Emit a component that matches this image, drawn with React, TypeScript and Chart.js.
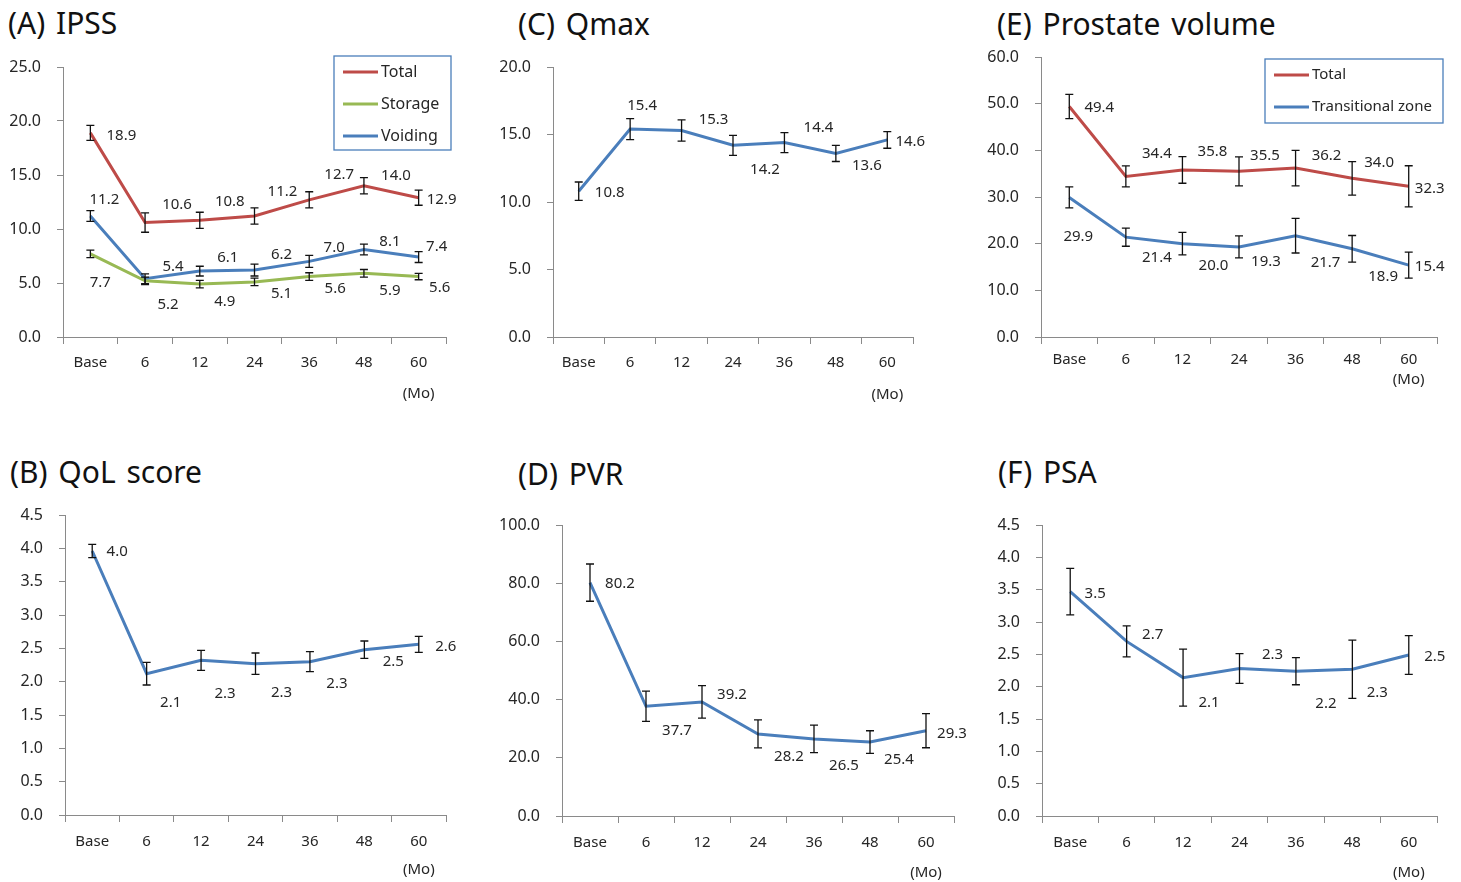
import React, { useEffect, useRef } from 'react';
import { Chart, registerables } from 'chart.js';
Chart.register(...registerables);

// ---------- data ----------
const months = ['Base', '6', '12', '24', '36', '48', '60'];
const unitLabel = '(Mo)';

// (A) IPSS
const ipssTotal = [18.9, 10.6, 10.8, 11.2, 12.7, 14.0, 12.9];
const ipssTotalErr = [0.7, 0.9, 0.75, 0.75, 0.75, 0.75, 0.7];
const ipssStorage = [7.7, 5.2, 4.9, 5.1, 5.6, 5.9, 5.6];
const ipssStorageErr = [0.35, 0.35, 0.35, 0.35, 0.35, 0.35, 0.3];
const ipssVoiding = [11.2, 5.4, 6.1, 6.2, 7.0, 8.1, 7.4];
const ipssVoidingErr = [0.5, 0.45, 0.45, 0.55, 0.55, 0.5, 0.5];

// (B) QoL score
const qol = [3.96, 2.12, 2.32, 2.27, 2.3, 2.48, 2.56];
const qolErr = [0.1, 0.17, 0.15, 0.16, 0.15, 0.13, 0.12];

// (C) Qmax
const qmax = [10.8, 15.4, 15.3, 14.2, 14.4, 13.6, 14.6];
const qmaxErr = [0.68, 0.78, 0.79, 0.74, 0.74, 0.6, 0.62];

// (D) PVR
const pvr = [80.2, 37.7, 39.2, 28.2, 26.5, 25.4, 29.3];
const pvrErr = [6.4, 5.2, 5.6, 4.8, 4.75, 3.9, 5.85];

// (E) Prostate volume
const pvTotal = [49.4, 34.4, 35.8, 35.5, 36.2, 34.0, 32.3];
const pvTotalErr = [2.6, 2.25, 2.85, 3.1, 3.8, 3.6, 4.4];
const pvTz = [29.9, 21.4, 20.0, 19.3, 21.7, 18.9, 15.4];
const pvTzErr = [2.25, 1.95, 2.4, 2.35, 3.7, 2.85, 2.8];

// (F) PSA
const psa = [3.47, 2.7, 2.14, 2.28, 2.24, 2.27, 2.49];
const psaErr = [0.36, 0.24, 0.44, 0.23, 0.21, 0.45, 0.3];

// ---------- styles ----------
const FONT = "'Noto Sans', 'DejaVu Sans', sans-serif";
const TEXT = '#262626';
const AXIS = '#8a8a8a';
const RED = '#BE4B48';
const GREEN = '#98B954';
const BLUE = '#4A7EBB';

type Series = { label: string; data: number[]; err: number[]; color: string; offsets: number[][] };
type PanelCfg = {
  key: string;
  title: string;
  titleX: number;
  titleY: number;
  canvas: { x: number; y: number; w: number; h: number };
  area: { l: number; t: number; r: number; b: number };
  yMax: number;
  yStep: number;
  xPad: number;
  unitDy: number;
  series: Series[];
  legend?: { dRight: number; dTop: number; w: number; h: number; font: number };
};

const panels: PanelCfg[] = [
  {
    key: 'A', title: '(A) IPSS', titleX: 8, titleY: 23,
    canvas: { x: 0, y: 40, w: 470, h: 370 }, area: { l: 63, t: 67, r: 446, b: 337 },
    yMax: 25, yStep: 5, xPad: 10, unitDy: 57,
    legend: { dRight: 5, dTop: -11, w: 117, h: 94, font: 16 },
    series: [
      { label: 'Total', data: ipssTotal, err: ipssTotalErr, color: RED,
        offsets: [[31, 3], [32, -18], [30, -19], [28, -24], [30, -25], [32, -10], [23, 2]] },
      { label: 'Storage', data: ipssStorage, err: ipssStorageErr, color: GREEN,
        offsets: [[10, 29], [23, 24], [25, 18], [27, 12], [26, 12], [26, 17], [21, 11]] },
      { label: 'Voiding', data: ipssVoiding, err: ipssVoidingErr, color: BLUE,
        offsets: [[14, -16], [28, -12], [28, -13], [27, -15], [25, -14], [26, -8], [18, -10]] },
    ],
  },
  {
    key: 'C', title: '(C) Qmax', titleX: 518, titleY: 24,
    canvas: { x: 480, y: 40, w: 480, h: 370 }, area: { l: 553, t: 67, r: 913, b: 337 },
    yMax: 20, yStep: 5, xPad: 10, unitDy: 58,
    series: [
      { label: 'Qmax', data: qmax, err: qmaxErr, color: BLUE,
        offsets: [[31, 2], [12, -23], [32, -11], [32, 24], [34, -15], [31, 12], [23, 2]] },
    ],
  },
  {
    key: 'E', title: '(E) Prostate volume', titleX: 997, titleY: 24,
    canvas: { x: 965, y: 40, w: 496, h: 360 }, area: { l: 1041, t: 57, r: 1437, b: 337 },
    yMax: 60, yStep: 10, xPad: 7, unitDy: 43,
    legend: { dRight: 6, dTop: 2, w: 178, h: 64, font: 15 },
    series: [
      { label: 'Total', data: pvTotal, err: pvTotalErr, color: RED,
        offsets: [[30, 1], [31, -23], [30, -18], [26, -16], [31, -12], [27, -16], [21, 2]] },
      { label: 'Transitional zone', data: pvTz, err: pvTzErr, color: BLUE,
        offsets: [[9, 39], [31, 21], [31, 22], [27, 15], [30, 27], [31, 28], [21, 2]] },
    ],
  },
  {
    key: 'B', title: '(B) QoL score', titleX: 10, titleY: 472,
    canvas: { x: 0, y: 490, w: 470, h: 392 }, area: { l: 65, t: 515, r: 446, b: 815 },
    yMax: 4.5, yStep: 0.5, xPad: 11, unitDy: 55,
    series: [
      { label: 'QoL', data: qol, err: qolErr, color: BLUE,
        offsets: [[25, 1], [24, 29], [24, 33], [26, 29], [27, 22], [29, 12], [27, 2]] },
    ],
  },
  {
    key: 'D', title: '(D) PVR', titleX: 518, titleY: 474,
    canvas: { x: 480, y: 490, w: 495, h: 392 }, area: { l: 562, t: 525, r: 954, b: 816 },
    yMax: 100, yStep: 20, xPad: 11, unitDy: 57,
    series: [
      { label: 'PVR', data: pvr, err: pvrErr, color: BLUE,
        offsets: [[30, 1], [31, 24], [30, -7], [31, 23], [30, 27], [29, 18], [26, 3]] },
    ],
  },
  {
    key: 'F', title: '(F) PSA', titleX: 998, titleY: 472,
    canvas: { x: 965, y: 490, w: 496, h: 392 }, area: { l: 1042, t: 525, r: 1437, b: 816 },
    yMax: 4.5, yStep: 0.5, xPad: 11, unitDy: 57,
    series: [
      { label: 'PSA', data: psa, err: psaErr, color: BLUE,
        offsets: [[25, 2], [26, -7], [26, 25], [33, -14], [30, 33], [25, 24], [26, 2]] },
    ],
  },
];

function makeDecor(p: PanelCfg) {
  return {
    id: 'decor' + p.key,
    afterDatasetsDraw(chart: any) {
      const ctx = chart.ctx as CanvasRenderingContext2D;
      const ys = chart.scales.y;
      const xs = chart.scales.x;
      const ca = chart.chartArea;
      ctx.save();
      // error bars
      p.series.forEach((s, di) => {
        const meta = chart.getDatasetMeta(di);
        s.data.forEach((v, i) => {
          const x = meta.data[i].x;
          const top = ys.getPixelForValue(v + s.err[i]);
          const bot = ys.getPixelForValue(v - s.err[i]);
          ctx.strokeStyle = '#111';
          ctx.lineWidth = 1.3;
          ctx.beginPath();
          ctx.moveTo(x, top); ctx.lineTo(x, bot);
          ctx.moveTo(x - 4, top); ctx.lineTo(x + 4, top);
          ctx.moveTo(x - 4, bot); ctx.lineTo(x + 4, bot);
          ctx.stroke();
        });
      });
      // value labels
      ctx.font = `15px ${FONT}`;
      ctx.fillStyle = TEXT;
      ctx.textAlign = 'center';
      ctx.textBaseline = 'middle';
      p.series.forEach((s, di) => {
        const meta = chart.getDatasetMeta(di);
        s.data.forEach((v, i) => {
          const [dx, dy] = s.offsets[i];
          ctx.fillText(v.toFixed(1), meta.data[i].x + dx, meta.data[i].y + dy);
        });
      });
      // unit label
      const lastX = xs.getPixelForValue(months.length - 1);
      ctx.fillText(unitLabel, lastX, ca.bottom + p.unitDy);
      // legend
      if (p.legend) {
        const L = p.legend;
        const bx = ca.right + L.dRight - L.w;
        const by = ca.top + L.dTop;
        ctx.fillStyle = '#fff';
        ctx.fillRect(bx, by, L.w, L.h);
        ctx.strokeStyle = BLUE;
        ctx.lineWidth = 1.3;
        ctx.strokeRect(bx, by, L.w, L.h);
        ctx.font = `${L.font}px ${FONT}`;
        ctx.textAlign = 'left';
        p.series.forEach((s, i) => {
          const ry = by + 16 + 32 * i;
          ctx.strokeStyle = s.color;
          ctx.lineWidth = 3;
          ctx.beginPath();
          ctx.moveTo(bx + 9, ry);
          ctx.lineTo(bx + 44, ry);
          ctx.stroke();
          ctx.fillStyle = TEXT;
          ctx.fillText(s.label, bx + 47, ry);
        });
      }
      ctx.restore();
    },
  };
}

function Panel({ p }: { p: PanelCfg }) {
  const ref = useRef<HTMLCanvasElement>(null);
  useEffect(() => {
    if (!ref.current) return;
    const c = p.canvas;
    const a = p.area;
    const xFont = { family: FONT, size: 15 };
    const yFont = { family: FONT, size: 16 };
    const chart = new Chart(ref.current, {
      type: 'line',
      data: {
        labels: months,
        datasets: p.series.map((s) => ({
          label: s.label,
          data: s.data,
          borderColor: s.color,
          backgroundColor: s.color,
          borderWidth: 3,
          pointRadius: 0,
          tension: 0,
        })),
      },
      options: {
        animation: false,
        responsive: false,
        maintainAspectRatio: false,
        layout: { padding: { top: a.t - c.y, right: c.x + c.w - a.r, left: 0, bottom: 0 } },
        plugins: { legend: { display: false }, tooltip: { enabled: false }, title: { display: false } },
        scales: {
          x: {
            type: 'category',
            offset: true,
            grid: { offset: true, drawOnChartArea: false, drawTicks: true, tickLength: 7, color: AXIS },
            border: { display: true, color: AXIS, width: 1 },
            ticks: { font: xFont, color: TEXT, padding: p.xPad, maxRotation: 0, autoSkip: false },
            afterFit: (s: any) => {
              s.height = c.y + c.h - a.b;
              s.paddingLeft = 0;
              s.paddingRight = 0;
            },
          },
          y: {
            min: 0,
            max: p.yMax,
            ticks: {
              stepSize: p.yStep,
              font: yFont,
              color: TEXT,
              padding: 16,
              callback: (v: any) => Number(v).toFixed(1),
            },
            grid: { drawOnChartArea: false, drawTicks: true, tickLength: 6, color: AXIS },
            border: { display: true, color: AXIS, width: 1 },
            afterFit: (s: any) => {
              s.width = a.l - c.x;
              s.paddingTop = 0;
              s.paddingBottom = 0;
            },
          },
        },
      } as any,
      plugins: [makeDecor(p)],
    });
    return () => chart.destroy();
  }, [p]);
  return (
    <>
      <div
        style={{
          position: 'absolute',
          left: p.titleX,
          top: p.titleY - 18,
          height: 36,
          lineHeight: '36px',
          fontFamily: FONT,
          fontSize: 30,
          wordSpacing: 3,
          color: '#111',
          whiteSpace: 'pre',
        }}
      >
        {p.title}
      </div>
      <canvas
        ref={ref}
        width={p.canvas.w}
        height={p.canvas.h}
        style={{ position: 'absolute', left: p.canvas.x, top: p.canvas.y, width: p.canvas.w, height: p.canvas.h }}
      />
    </>
  );
}

export default function App() {
  return (
    <div style={{ position: 'absolute', left: 0, top: 0, width: 1461, height: 882, background: '#fff', overflow: 'hidden' }}>
      {panels.map((p) => (
        <Panel key={p.key} p={p} />
      ))}
    </div>
  );
}
